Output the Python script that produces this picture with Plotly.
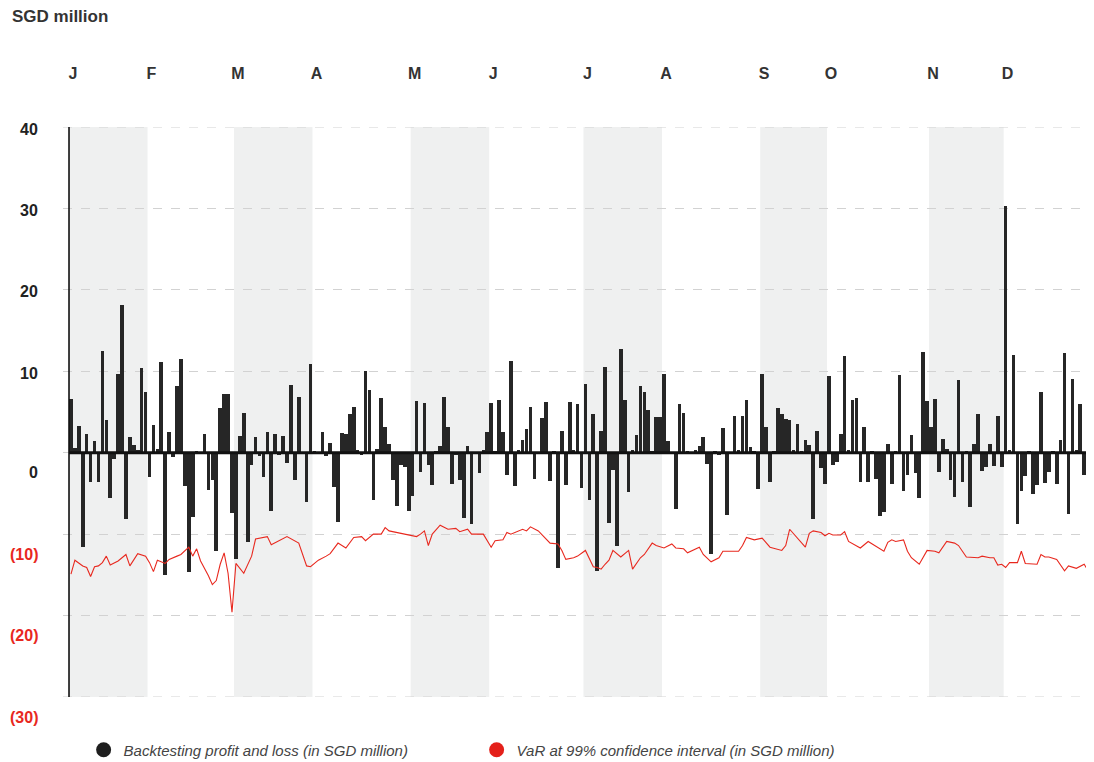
import plotly.graph_objects as go

# ---------------- data ----------------
month_labels = ["J", "F", "M", "A", "M", "J", "J", "A", "S", "O", "N", "D"]

# daily backtesting P&L (SGD million), one list per month
pnl_jan = [6.6, 0.6, 3.3, -11.6, 2.3, -3.6, 1.4, -3.6, 12.5, 4.0, -5.5, -0.8, 9.7, 18.2, -8.2, 1.9, 1.0, 0.3, 10.4, 7.5]
pnl_feb = [-3.0, 3.4, 0.5, 11.1, -15.0, 2.6, -0.5, 8.2, 11.5, -4.1, -14.6, -7.9, 0.1, -0.2, 2.3, -4.6, -3.3, -12.1, 5.5, 7.2, 7.2, -7.4]
pnl_mar = [-13.1, 2.1, 4.9, -11.0, -1.5, 1.9, -0.4, -3.0, 2.6, -7.1, 2.3, -0.3, 2.1, -1.3, 8.3, -3.4, 6.9, -0.2, -6.1, 10.9]
pnl_apr = [0.2, -0.2, 2.5, -0.4, 1.2, -4.2, -8.5, 2.4, 2.3, 4.8, 5.6, 0.3, -0.3, 10.0, 7.7, -5.8, 0.4, 6.7, 3.2, 1.1, -3.4, -6.6, -1.5, -1.8, -7.2]
pnl_may = [-5.3, 6.3, -2.4, 6.1, -1.5, -4.0, 0.2, 0.8, 6.9, 3.2, -3.9, -0.3, -3.3, -8.0, 0.8, -8.8, -0.2, -2.5, 0.3, 2.5]
pnl_jun = [6.1, 0.2, 6.5, 2.5, -2.7, 11.3, -4.1, 0.3, 1.6, 2.9, 5.6, -3.2, -0.2, 4.3, 6.2, -3.5, 0.2, -14.2, 2.7, -4.0, 6.2, 0.3, 6.0, -4.3]
pnl_jul = [8.4, -5.8, 4.8, -14.5, 2.7, 10.5, -8.6, -2.1, -11.4, 12.7, 6.5, -4.8, 0.3, 2.2, 8.2, 7.4, 5.2, 0.2, 4.4, 4.4]
pnl_aug = [9.7, 1.4, -0.2, -6.9, 6.0, 4.9, 0.2, -0.2, 0.3, 0.8, 1.9, -1.4, -12.4, 0.2, -0.3, 3.0, -7.6, -0.2, 4.5, 0.3, 4.5, 6.5, 0.7, 0.2, -4.5]
pnl_sep = [9.7, 3.2, -3.6, 0.2, 5.5, 4.7, 4.1, 4.0, 0.3, 3.5, 0.2, 1.6, 0.9, -8.1, 2.7, -1.9, -3.8]
pnl_oct = [9.4, -1.5, -1.1, 2.3, 11.9, 0.3, 6.5, 6.7, -3.6, 3.2, -3.6, 0.2, -3.2, -7.8, -7.3, 1.1, -3.8, 0.2, 9.5, -4.7, -2.7, 2.2, -2.5, -5.5, 12.4, 6.3]
pnl_nov = [3.2, 6.6, -2.4, 1.7, 0.5, -3.4, -5.4, 8.9, -3.6, 0.2, -6.7, 1.1, 4.8, -2.3, -1.8, 1.1, -1.6, 4.5, -1.8]
pnl_dec = [30.3, 0.3, 12.0, -8.8, -4.7, -2.8, 0.2, -5.1, -4.0, 7.4, -3.7, -2.4, 0.2, -3.8, 1.6, 12.2, -7.5, 9.1, 0.3, 6.0, -2.7, 3.1, 3.4]

# VaR at 99% (SGD million), read at these trading-day indices
var_days = [0, 1, 3, 4, 5, 6, 7, 8, 9, 10, 12, 14, 15, 17, 19, 20, 21, 22, 24, 25, 27, 28, 30, 31, 32, 33,
            35, 36, 37, 38, 39, 40, 41, 42, 44, 46, 47, 50, 51, 55, 58, 60, 61, 63, 65, 66, 68, 70, 72, 74,
            75, 77, 79, 80, 81, 84, 88, 89, 90, 91, 92, 94, 96, 98, 99, 101, 102, 105, 107, 108, 110, 111,
            112, 115, 116, 117, 119, 122, 124, 125, 126, 128, 129, 131, 132, 133, 134, 135, 136, 137, 138,
            139, 140, 142, 143, 145, 146, 148, 149, 151, 153, 154, 156, 157, 159, 160, 161, 163, 165, 166,
            170, 171, 172, 174, 176, 178, 181, 182, 183, 185, 187, 188, 189, 191, 192, 193, 194, 196, 197,
            198, 200, 201, 203, 204, 205, 207, 208, 209, 210, 212, 213, 214, 216, 218, 220, 221, 223, 225,
            226, 228, 231, 232, 234, 235, 236, 237, 238, 239, 241, 242, 243, 246, 247, 248, 249, 251, 253,
            254, 256, 258, 259, 260]
var_vals = [-14.9, -13.2, -13.9, -14.1, -15.2, -14.0, -13.9, -13.5, -12.7, -13.8, -13.3, -12.5, -13.9, -12.4,
            -12.7, -13.5, -14.6, -13.2, -13.6, -13.1, -12.7, -12.5, -11.6, -12.7, -11.8, -13.3,
            -15.1, -16.2, -15.7, -13.7, -12.3, -14.8, -19.6, -13.6, -14.8, -12.7, -10.6, -10.3, -11.3, -10.3,
            -11.1, -13.9, -14.0, -13.2, -12.7, -12.4, -11.1, -11.7, -10.4, -10.3,
            -10.8, -10.0, -10.0, -9.2, -9.6, -9.9, -10.3, -10.0, -9.6, -11.4, -10.0, -8.9, -9.4, -9.3, -9.7,
            -9.4, -10.0, -10.0, -11.6, -10.8, -10.7, -9.8,
            -10.0, -9.4, -9.6, -9.1, -9.6, -11.1, -11.2, -12.0, -13.1, -12.9, -12.7, -12.0, -13.1, -14.0,
            -14.1, -14.3, -13.7, -13.2, -12.0,
            -12.4, -12.8, -12.0, -14.3, -12.9, -12.5, -11.1, -11.4, -11.7, -11.2, -11.7, -11.8, -12.3, -11.8,
            -11.6, -12.5, -13.4, -12.9, -12.1,
            -12.1, -11.4, -10.4, -10.7, -10.5, -11.6, -12.0, -11.4, -9.4, -10.5, -11.6, -9.9, -9.6, -9.8,
            -10.2, -9.9, -10.1, -10.1, -9.7,
            -10.9, -11.4, -11.7, -10.9, -11.2, -11.6, -12.1, -11.0, -10.7, -10.9, -10.7, -12.1, -12.9, -13.7,
            -12.0, -12.1, -12.3, -10.9, -11.1,
            -11.4, -12.8, -12.9, -12.7, -12.9, -12.9, -13.8, -13.7, -14.1, -13.5, -13.5, -12.1, -13.6, -13.7,
            -12.5, -12.8, -12.8, -13.1, -14.5,
            -13.9, -14.2, -13.7, -14.5, -14.9]

y_tick_vals = [40, 30, 20, 10, 0, -10, -20, -30]
y_tick_text = ["40", "30", "20", "10", "0", "(10)", "(20)", "(30)"]

# ---------------- derived ----------------
months = [pnl_jan, pnl_feb, pnl_mar, pnl_apr, pnl_may, pnl_jun,
          pnl_jul, pnl_aug, pnl_sep, pnl_oct, pnl_nov, pnl_dec]
pnl = [v for m in months for v in m]
days = list(range(len(pnl)))
month_starts = []
acc = 0
for m in months:
    month_starts.append(acc)
    acc += len(m)
n_days = acc

FONT = "Liberation Sans, Arial, Helvetica, sans-serif"
BAR = "#262626"
RED = "#e8281e"
X_LEFT = -2.03
X_RIGHT = n_days - 0.5

# the page body has an 8px margin, so the figure is 8px smaller than the window
W, H = 1086, 754

fig = go.Figure()

fig.add_trace(go.Bar(x=days, y=pnl, width=0.92, marker=dict(color=BAR, line=dict(width=0)),
                     showlegend=False, hoverinfo="x+y"))
fig.add_trace(go.Scatter(x=var_days, y=var_vals, mode="lines", line=dict(color=RED, width=1.1),
                         showlegend=False))

# legend entries (circle markers as in the reference)
fig.add_trace(go.Scatter(x=[None], y=[None], mode="markers", name="Backtesting profit and loss (in SGD million)",
                         marker=dict(color="#1e1e1e", size=15, symbol="circle")))
fig.add_trace(go.Scatter(x=[None], y=[None], mode="markers", name="VaR at 99% confidence interval (in SGD million)",
                         marker=dict(color="#e4201a", size=15, symbol="circle")))

shapes = []
# alternating month shading (Jan, Mar, May, Jul, Sep, Nov)
bounds = month_starts + [n_days]
for k in range(0, 12, 2):
    shapes.append(dict(type="rect", xref="x", yref="y", x0=bounds[k] - 0.5, x1=bounds[k + 1] - 0.5,
                       y0=-30, y1=40, fillcolor="#eff0f0", line=dict(width=0), layer="below"))
# dashed gridlines at the range edges (plotly omits them)
for yv in (40, -30):
    shapes.append(dict(type="line", xref="x", yref="y", x0=X_LEFT, x1=X_RIGHT, y0=yv, y1=yv,
                       line=dict(color="#d2d2d2", width=1, dash="dash"), layer="above"))
# vertical axis line
shapes.append(dict(type="line", xref="x", yref="y", x0=-0.5, x1=-0.5, y0=-30, y1=40,
                   line=dict(color="#111111", width=1.6), layer="above"))
# thick zero line
shapes.append(dict(type="line", xref="x", yref="y", x0=-0.5, x1=X_RIGHT, y0=0, y1=0,
                   line=dict(color="#111111", width=3), layer="above"))

annotations = []
for v, t in zip(y_tick_vals, y_tick_text):
    neg = v < 0
    annotations.append(dict(x=-0.0223, xref="paper", y=v, yref="y", text=t, showarrow=False,
                            xanchor="right", yanchor="middle",
                            yshift=(-2 if v > 0 else -20),
                            font=dict(family=FONT, size=16, weight="bold",
                                      color=(RED if neg else "#222222"))))

fig.update_layout(
    width=W, height=H,
    margin=dict(l=55, r=0, t=119, b=65, autoexpand=False),
    paper_bgcolor="white", plot_bgcolor="white",
    title=dict(text="SGD million", x=4 / W, xanchor="left", xref="container", y=1 - 8 / H,
               yanchor="middle", yref="container",
               font=dict(family=FONT, size=17, weight="bold", color="#333333")),
    bargap=0,
    shapes=shapes,
    annotations=annotations,
    xaxis=dict(range=[X_LEFT, X_RIGHT], side="top", tickmode="array",
               tickvals=[s + 0.5 for s in month_starts], ticktext=month_labels, ticks="",
               ticklabelstandoff=44,
               showgrid=False, zeroline=False, showline=False, fixedrange=True,
               tickfont=dict(family=FONT, size=16, weight="bold", color="#333333")),
    yaxis=dict(range=[-30, 40], dtick=10, tick0=0, showticklabels=False, showgrid=True,
               gridcolor="#d2d2d2", griddash="dash", gridwidth=1, zeroline=False, showline=False,
               fixedrange=True),
    legend=dict(orientation="h", x=0.02, xanchor="left", y=-0.093, yanchor="middle",
                entrywidth=348, entrywidthmode="pixels", itemsizing="trace",
                font=dict(family=FONT, size=15, style="italic", color="#444444"),
                bgcolor="rgba(0,0,0,0)"),
    showlegend=True,
)

fig.write_html("out.html")
